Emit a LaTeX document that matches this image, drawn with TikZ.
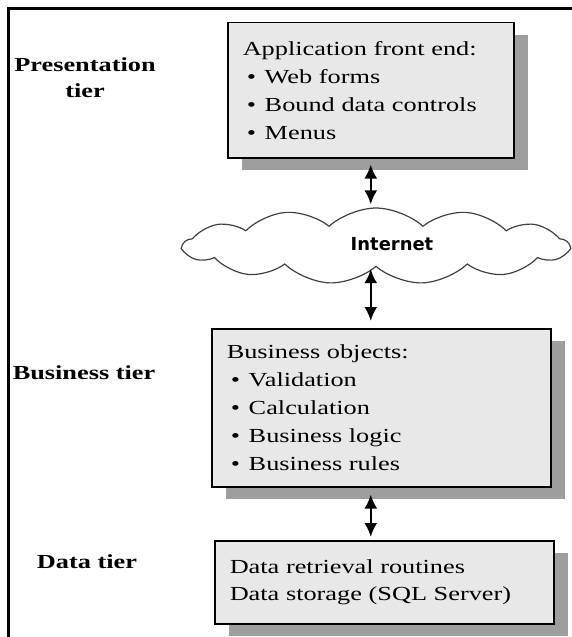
\documentclass[tikz,border=0pt]{standalone}
\usepackage{fontspec}
\setmainfont[FakeStretch=1.32]{Liberation Serif}
\newfontfamily\netfont{DejaVu Sans}
\usetikzlibrary{shapes.symbols,shadows,arrows.meta}

\definecolor{boxgray}{gray}{0.91}
\definecolor{shadowgray}{gray}{0.62}
\newcommand{\itm}{\hspace*{4bp}\makebox[18bp][l]{\textbullet}}

\tikzset{
	tierbox/.style={draw, line width=1.5bp, fill=boxgray, align=left, anchor=north west,
		inner xsep=15bp, font=\fontsize{20}{28}\selectfont,
		drop shadow={shadow xshift=14bp, shadow yshift=-12bp, fill=shadowgray, opacity=1}},
	tierlabel/.style={align=center, font=\fontsize{20}{26}\selectfont\bfseries},
	link/.style={{Latex[length=14bp,width=13bp]}-{Latex[length=14bp,width=13bp]}, line width=2.5bp}
}

\begin{document}
\begin{tikzpicture}[x=1bp,y=-1bp]
	\useasboundingbox (0,0) rectangle (572,637);
	
	% Rahmen oben und links
	\draw[line width=3bp, line join=miter] (8.5,637) -- (8.5,8.5) -- (572,8.5);
	
	% Beschriftung der Schichten
	\node[tierlabel] (prestier) at (85,78) {Presentation\\tier};
	\node[tierlabel] (biztier) at (84,373) {Business tier};
	\node[tierlabel] (datatier) at (87,562) {Data tier};
	
	% Kaesten der Schichten
	\node[tierbox, text width=256bp, minimum height=135bp] (app) at (227,22)
		{Application front end:\\ \itm Web forms\\ \itm Bound data controls\\ \itm Menus};
	\node[tierbox, text width=309bp, minimum height=158bp] (biz) at (211,328)
		{Business objects:\\ \itm Validation\\ \itm Calculation\\ \itm Business logic\\ \itm Business rules};
	\node[tierbox, text width=309bp, minimum height=83bp] (data) at (214,540)
		{Data retrieval routines\\ Data storage (SQL Server)\\[-8bp]};
	
	% Wolke
	\node[cloud, cloud puffs=13, cloud puff arc=85, aspect=5,
		minimum width=385bp, minimum height=76bp, draw=black!75, line width=1.2bp] (net) at (376,246) {};
	\node[font=\netfont\bfseries\fontsize{18}{20}\selectfont] (nettext) at (392,244) {Internet};
	
	% Pfeile
	\draw[link, shorten <=6bp, shorten >=3bp] (app.south) -- (app.south |- net.north);
	\draw[link, shorten <=2bp, shorten >=7bp] (app.south |- net.south) -- (app.south |- biz.north);
	\draw[link, shorten <=7bp, shorten >=3bp] (app.south |- biz.south) -- (app.south |- data.north);
\end{tikzpicture}
\end{document}
